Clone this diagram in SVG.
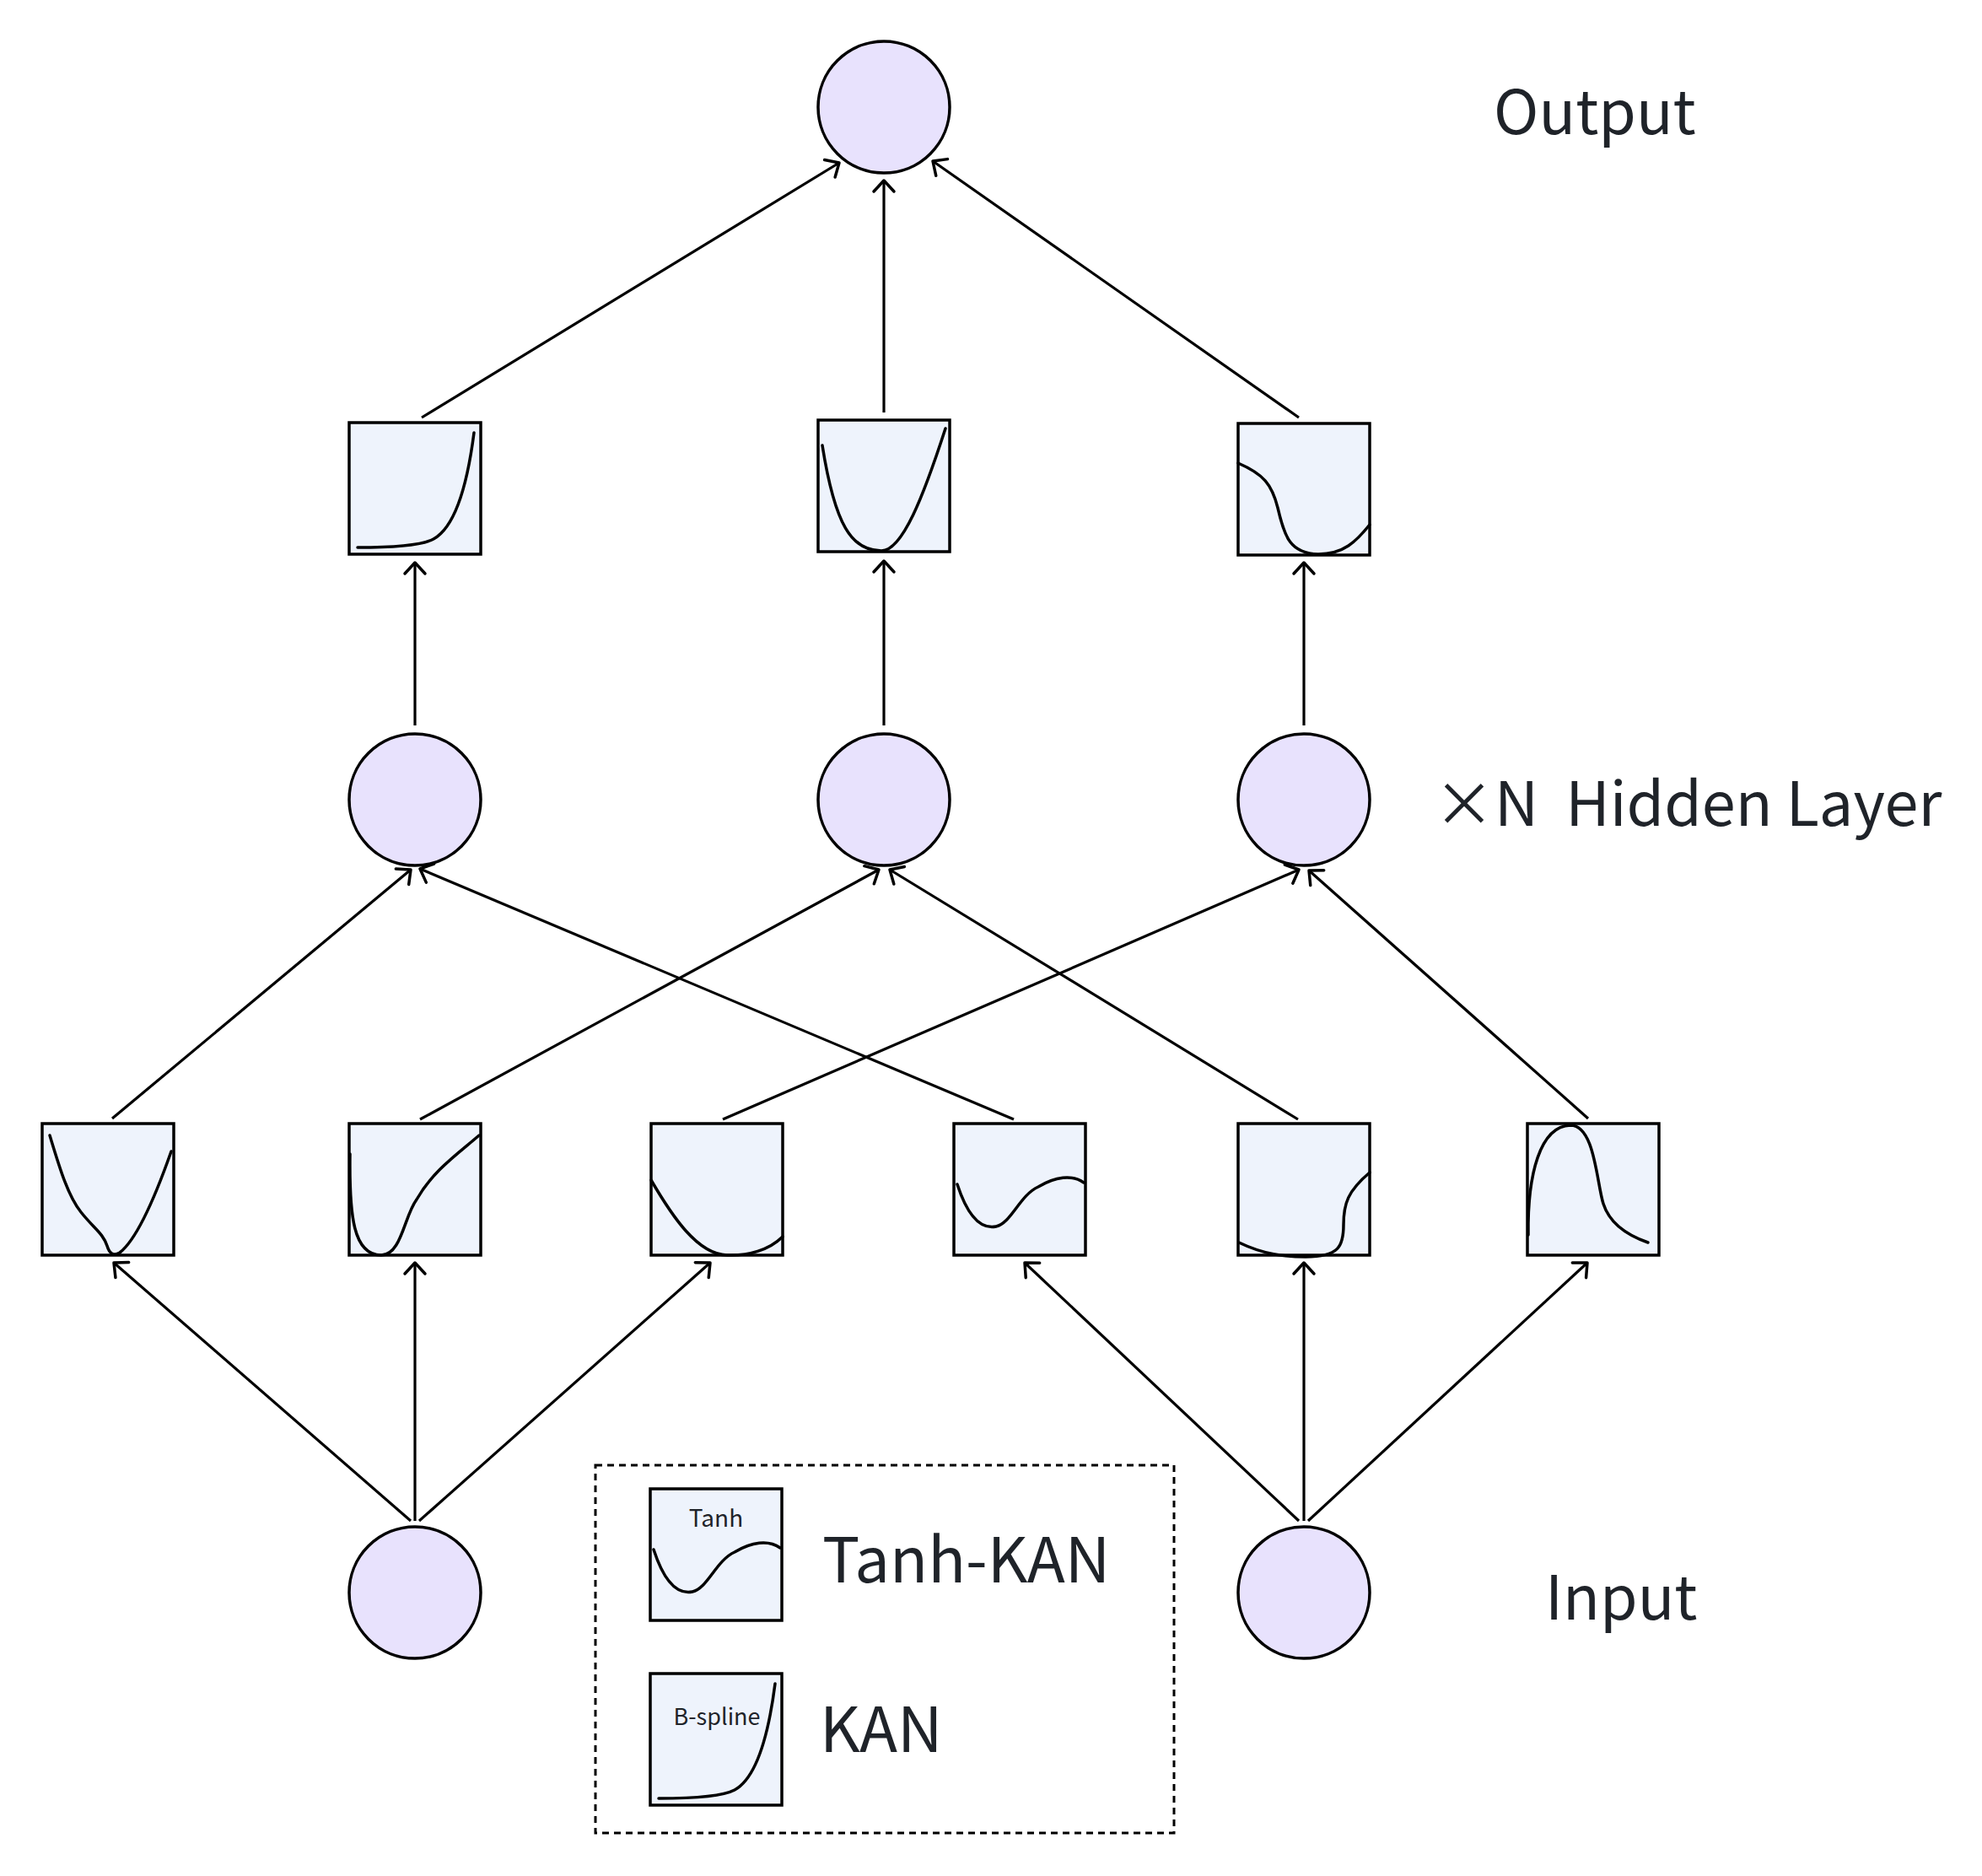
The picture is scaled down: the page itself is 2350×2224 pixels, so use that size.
<svg xmlns="http://www.w3.org/2000/svg" width="2350" height="2224" viewBox="0 0 2350 2224">
<defs>
<style>
.nd{fill:#E8E2FD;stroke:#000;stroke-width:3.5}
.sq{fill:#EEF3FC;stroke:#000;stroke-width:3.5}
.cv{fill:none;stroke:#000;stroke-width:3.5;stroke-linecap:round}
.ln{fill:none;stroke:#000;stroke-width:3.2;marker-end:url(#ah)}
.t{font-family:"Noto Sans CJK SC","Noto Sans",sans-serif;fill:#1F2329}
.big{font-size:72px}
.leg{font-size:74px}
.sm{font-size:28px}
</style>
<marker id="ah" markerUnits="userSpaceOnUse" markerWidth="30" markerHeight="30" viewBox="-16 -15 20 30" refX="0" refY="0" orient="auto">
<path d="M-13,-12 L0,0 L-13,12" fill="none" stroke="#000" stroke-width="3.5" stroke-linecap="round" stroke-linejoin="round"/>
</marker>
<path id="c-exp" d="M10 148 C50 148 85 146 100 138 C120 127 138 90 148 12"/>
<path id="c-wave" d="M4 72 C18 115 35 125 50 122 C68 118 78 85 100 75 C120 63 140 60 154 70"/>
</defs>

<g id="connectors">
<line class="ln" x1="487" y1="1803" x2="135" y2="1497"/>
<line class="ln" x1="492" y1="1803" x2="492" y2="1497"/>
<line class="ln" x1="497" y1="1803" x2="842" y2="1497"/>
<line class="ln" x1="1540" y1="1803" x2="1215" y2="1497"/>
<line class="ln" x1="1546" y1="1803" x2="1546" y2="1497"/>
<line class="ln" x1="1551" y1="1803" x2="1882" y2="1497"/>
<line class="ln" x1="133" y1="1326" x2="487" y2="1031"/>
<line class="ln" x1="498" y1="1327" x2="1042" y2="1031"/>
<line class="ln" x1="857" y1="1327" x2="1540" y2="1031"/>
<line class="ln" x1="1202" y1="1327" x2="498" y2="1030"/>
<line class="ln" x1="1539" y1="1327" x2="1055" y2="1031"/>
<line class="ln" x1="1883" y1="1326" x2="1552" y2="1032"/>
<line class="ln" x1="492" y1="860" x2="492" y2="667"/>
<line class="ln" x1="1048" y1="860" x2="1048" y2="665"/>
<line class="ln" x1="1546" y1="860" x2="1546" y2="667"/>
<line class="ln" x1="500" y1="495" x2="995" y2="193"/>
<line class="ln" x1="1048" y1="489" x2="1048" y2="214"/>
<line class="ln" x1="1540" y1="495" x2="1106" y2="191"/>
</g>

<g id="output-node"><circle class="nd" cx="1048" cy="127" r="78"/></g>
<g id="hidden-1"><circle class="nd" cx="492" cy="948" r="78"/></g>
<g id="hidden-2"><circle class="nd" cx="1048" cy="948" r="78"/></g>
<g id="hidden-3"><circle class="nd" cx="1546" cy="948" r="78"/></g>
<g id="input-1"><circle class="nd" cx="492" cy="1888" r="78"/></g>
<g id="input-2"><circle class="nd" cx="1546" cy="1888" r="78"/></g>

<g id="top-fn-1" transform="translate(414,501)"><rect class="sq" width="156" height="156"/><use href="#c-exp" class="cv"/></g>
<g id="top-fn-2" transform="translate(970,498)"><rect class="sq" width="156" height="156"/><path class="cv" d="M5 30 C20 125 40 155 75 155 C100 155 125 90 151 10"/></g>
<g id="top-fn-3" transform="translate(1468,502)"><rect class="sq" width="156" height="156"/><path class="cv" d="M0 47 C30 60 40 72 47 100 C55 135 62 154 95 155 C125 155 140 140 156 120"/></g>

<g id="fn-1" transform="translate(50,1332)"><rect class="sq" width="156" height="156"/><path class="cv" d="M9 14 C20 50 30 85 46 105 C62 125 72 130 77 145 C80 155 85 157 92 153 C115 135 140 70 153 33"/></g>
<g id="fn-2" transform="translate(414,1332)"><rect class="sq" width="156" height="156"/><path class="cv" d="M1 36 C0 110 5 156 38 156 C62 156 65 110 80 90 C100 55 130 35 154 14"/></g>
<g id="fn-3" transform="translate(772,1332)"><rect class="sq" width="156" height="156"/><path class="cv" d="M0 67 C25 110 55 155 90 156 C115 157 140 150 156 134"/></g>
<g id="fn-4" transform="translate(1131,1332)"><rect class="sq" width="156" height="156"/><use href="#c-wave" class="cv"/></g>
<g id="fn-5" transform="translate(1468,1332)"><rect class="sq" width="156" height="156"/><path class="cv" d="M1 141 C30 155 55 158 80 158 C120 158 125 145 125 120 C125 95 130 80 156 58"/></g>
<g id="fn-6" transform="translate(1811,1332)"><rect class="sq" width="156" height="156"/><path class="cv" d="M1 132 C0 60 15 3 51 2 C80 2 82 70 90 95 C98 120 120 133 143 141"/></g>

<g id="legend">
<rect x="706" y="1737" width="686" height="436" fill="none" stroke="#000" stroke-width="3" stroke-dasharray="8 6"/>
<g id="legend-tanh" transform="translate(771,1765)"><rect class="sq" width="156" height="156"/><use href="#c-wave" class="cv"/><text class="t sm" x="78" y="45" text-anchor="middle">Tanh</text></g>
<g id="legend-bspline" transform="translate(771,1984)"><rect class="sq" width="156" height="156"/><use href="#c-exp" class="cv"/><text class="t" style="font-size:27px" x="79" y="61" text-anchor="middle">B-spline</text></g>
<text class="t leg" x="975" y="1876">Tanh-KAN</text>
<text class="t leg" x="972" y="2077">KAN</text>
</g>

<g id="labels">
<text class="t big" x="1771" y="159">Output</text>
<text class="t big" x="1700" y="979" xml:space="preserve">×N  Hidden Layer</text>
<text class="t big" x="1832" y="1920">Input</text>
</g>
</svg>
